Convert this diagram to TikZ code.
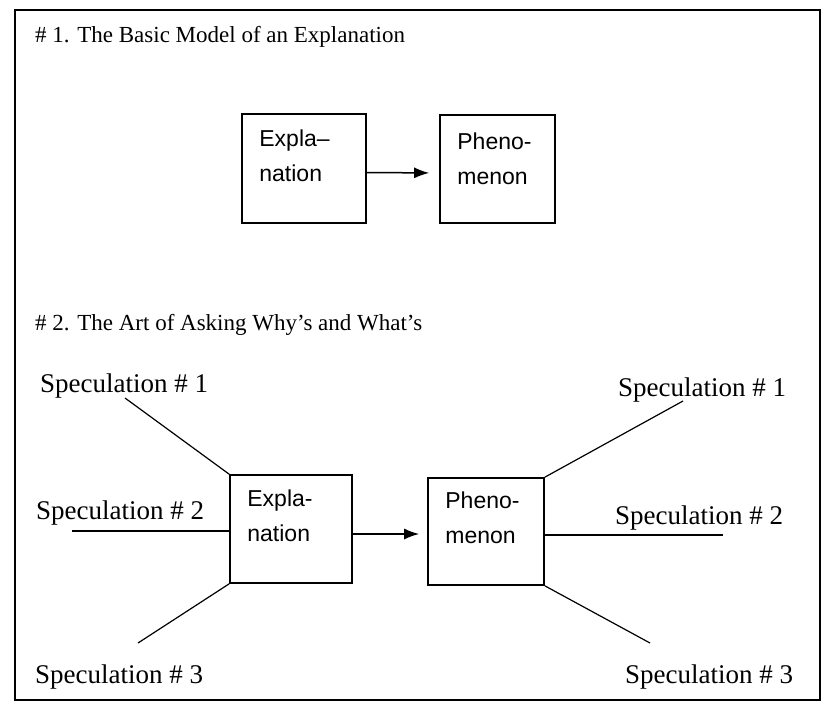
\documentclass[tikz,border=0pt]{standalone}
\usepackage{fontspec}
\setmainfont{Liberation Serif}
\newfontfamily\boxfont{Liberation Sans}
\usetikzlibrary{arrows.meta}

\tikzset{
  bx/.style={draw,line width=1.6pt,inner sep=0pt},
  boxtxt/.style={font=\boxfont\fontsize{23}{35}\selectfont,align=left,inner sep=0pt,anchor=north west},
  spec/.style={font=\fontsize{27}{30}\selectfont,inner sep=0pt,anchor=base west},
  ttl/.style={font=\fontsize{23}{27}\selectfont,inner sep=0pt,anchor=base west},
  ln/.style={line width=1.2pt},
  arr/.style={line width=1.5pt,-{Latex[length=15pt,width=11pt]}},
}

\begin{document}
\begin{tikzpicture}[x=1pt,y=-1pt]
        \useasboundingbox (0,0) rectangle (822,702);
        \draw[line width=1.4pt] (15,10) rectangle (820,700);

        % titles
        \node[ttl] (ttl1) at (35,42) {\# 1. The Basic Model of an Explanation};
        \node[ttl] (ttl2) at (35,330) {\# 2. The Art of Asking Why's and What's};

        % basic model
        \node[bx,minimum width=124pt,minimum height=109pt] (expl1) at (304,168.5) {};
        \node[bx,minimum width=115pt,minimum height=108pt] (phen1) at (497.5,169) {};
        \node[boxtxt] (expl1txt) at ([xshift=18pt,yshift=-16pt]expl1.north west) {Expla–\\nation};
        \node[boxtxt] (phen1txt) at ([xshift=18pt,yshift=-18pt]phen1.north west) {Pheno-\\menon};
        \draw[arr,shorten >=10pt] ([yshift=-4pt]expl1.east) -- ([yshift=-4pt]phen1.west);

        % why's and what's
        \node[bx,minimum width=122pt,minimum height=108pt] (expl2) at (291,529) {};
        \node[bx,minimum width=116pt,minimum height=107pt] (phen2) at (486,531.5) {};
        \node[boxtxt] (expl2txt) at ([xshift=18pt,yshift=-15pt]expl2.north west) {Expla-\\nation};
        \node[boxtxt] (phen2txt) at ([xshift=18pt,yshift=-14pt]phen2.north west) {Pheno-\\menon};
        \draw[arr,shorten >=8pt] ([yshift=-5pt]expl2.east) -- ([yshift=-2.5pt]phen2.west);

        % speculations, left
        \node[spec] (lspec1) at (40,392) {Speculation \# 1};
        \node[spec] (lspec2) at (36,519) {Speculation \# 2};
        \node[spec] (lspec3) at (35,683) {Speculation \# 3};
        \coordinate (l1) at (125,398);
        \coordinate (l2) at (72,531);
        \coordinate (l3) at (138,643);
        \draw[ln] (l1) -- (expl2.north west);
        \draw[ln] (l2) -- (l2 -| expl2.west);
        \draw[ln] (l3) -- (expl2.south west);

        % speculations, right
        \node[spec] (rspec1) at (618,396) {Speculation \# 1};
        \node[spec] (rspec2) at (615,524) {Speculation \# 2};
        \node[spec] (rspec3) at (625,683) {Speculation \# 3};
        \coordinate (r1) at (683,401);
        \coordinate (r2) at (723,535);
        \coordinate (r3) at (650,643);
        \draw[ln] (phen2.north east) -- (r1);
        \draw[ln] (r2 -| phen2.east) -- (r2);
        \draw[ln] (phen2.south east) -- (r3);
\end{tikzpicture}
\end{document}
